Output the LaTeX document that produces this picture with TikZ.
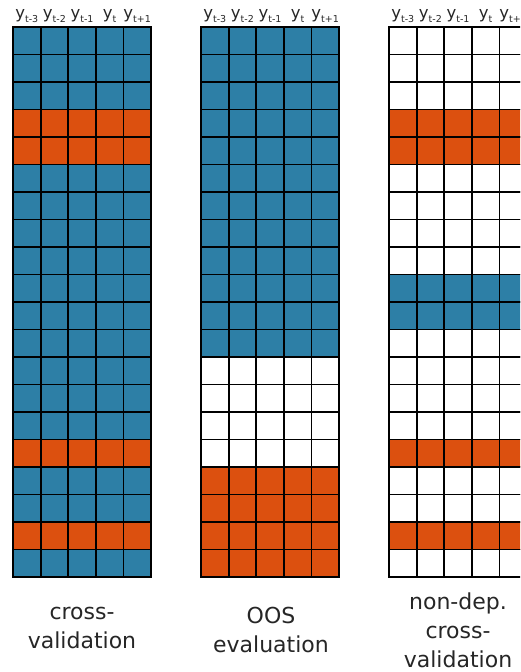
\documentclass[tikz,border=0pt]{standalone}
\usepackage{fontspec}
\setmainfont{DejaVu Sans}
\definecolor{colB}{HTML}{2D7FA6}
\definecolor{colO}{HTML}{DC500F}
\definecolor{colW}{HTML}{FFFFFF}
\newcommand\ysub[1]{y\raisebox{-0.28em}{\fontsize{9.5}{9.5}\selectfont #1}}
\tikzset{
  cell/.style={draw=black, line width=1.8pt},
  collabel/.style={font=\fontsize{16.5}{16.5}\selectfont, text=black!85, anchor=base, inner sep=0pt},
  caption/.style={font=\fontsize{22}{29}\selectfont, text=black!85, align=center},
}
% one grid: #1 = left edge, #2 = name, #3 = row colours (B, O, W)
\newcommand\drawgrid[3]{
  \foreach \c [count=\r from 0] in {#3} {
    \foreach \k in {0,...,4}
      \draw[cell, fill=col\c] (#1+27.6*\k,27+27.5*\r) rectangle ++(27.6,27.5);
  }
  \foreach \lab [count=\k from 0] in {t-3,t-2,t-1,t,t+1}
    \node[collabel] (#2-\k) at (#1+13.8+27.6*\k,18) {\ysub{\lab}};
}
\begin{document}
\begin{tikzpicture}[x=1pt,y=-1pt]
\useasboundingbox (0,0) rectangle (520,672);
\clip (0,0) rectangle (520,672);

\drawgrid{13}{cv}{B,B,B,O,O,B,B,B,B,B,B,B,B,B,B,O,B,B,O,B}
\drawgrid{201}{oos}{B,B,B,B,B,B,B,B,B,B,B,B,W,W,W,W,O,O,O,O}
\drawgrid{389}{nd}{W,W,W,O,O,W,W,W,W,B,B,W,W,W,W,O,W,W,O,W}

\node[caption] (cvcap) at (82,628) {cross-\\validation};
\node[caption] (ooscap) at (271,630) {OOS\\evaluation};
\node[caption] (ndcap) at (458,630) {non-dep.\\cross-\\validation};
\end{tikzpicture}
\end{document}
